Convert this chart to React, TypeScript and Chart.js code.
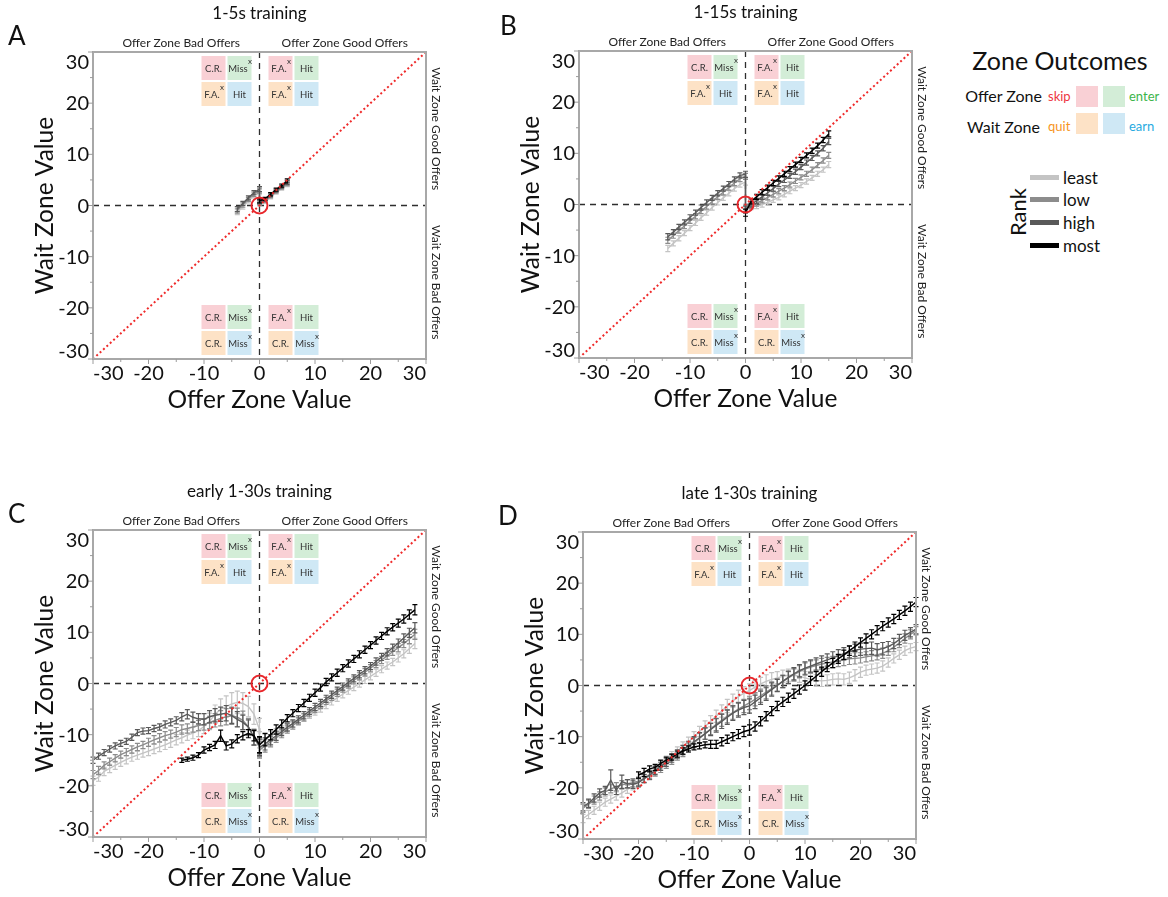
import React, { useEffect, useRef } from "react";
import { Chart, registerables } from "chart.js";

Chart.register(...registerables);

const FONT = "Lato, 'Open Sans', 'DejaVu Sans', sans-serif";

/* ---------------- axes, categories, labels ---------------- */
const AXIS_TICKS = [-30, -20, -10, 0, 10, 20, 30];
const MINOR_TICKS = [-25, -15, -5, 5, 15, 25];
const AXIS_MIN = -30;
const AXIS_MAX = 30;
const IDENTITY_LINE = [-30, 30];
const ORIGIN = [0];

const RANK_NAMES = ["least", "low", "high", "most"];
const RANK_COLORS = ["#c4c4c4", "#8c8c8c", "#595959", "#000000"];

const OUTCOME_COLORS = ["#f9d0d5", "#d3edd7", "#fde2c6", "#cfe8f5"];
const QUAD_TL = [["C.R.", ""], ["Miss", "x"], ["F.A.", "x"], ["Hit", ""]];
const QUAD_TR = [["F.A.", "x"], ["Hit", ""], ["F.A.", "x"], ["Hit", ""]];
const QUAD_BL = [["C.R.", ""], ["Miss", "x"], ["C.R.", ""], ["Miss", "x"]];
const QUAD_BR = [["F.A.", "x"], ["Hit", ""], ["C.R.", ""], ["Miss", "x"]];

/* ---------------- A: 1-5s training ---------------- */
const A_X_BAD = [-4, -3, -2, -1, 0];
const A_X_GOOD = [0, 1, 2, 3, 4, 5];
const A_LEAST_BAD = [-1.3, -0.3, 0.9, 1.9, 2.6];
const A_LOW_BAD = [-1.0, 0.1, 1.2, 2.2, 2.9];
const A_HIGH_BAD = [-0.7, 0.4, 1.5, 2.5, 3.2];
const A_LEAST_GOOD = [0.3, 0.7, 1.6, 2.5, 3.3, 4.1];
const A_LOW_GOOD = [0.5, 0.9, 1.8, 2.7, 3.5, 4.3];
const A_HIGH_GOOD = [0.7, 1.1, 2.0, 2.9, 3.7, 4.5];
const A_MOST_GOOD = [0.9, 1.3, 2.2, 3.1, 3.9, 4.8];
const A_ERR_BAD = [0.5, 0.4, 0.4, 0.4, 0.5];
const A_ERR_GOOD = [0.4, 0.3, 0.3, 0.3, 0.3, 0.4];

/* ---------------- B: 1-15s training ---------------- */
const B_X_BAD = [-14, -13, -12, -11, -10, -9, -8, -7, -6, -5, -4, -3, -2, -1, 0];
const B_X_GOOD = [0, 1, 2, 3, 4, 5, 6, 7, 8, 9, 10, 11, 12, 13, 14, 15];
const B_LEAST_BAD = [-8.6, -7.6, -6.6, -5.6, -4.6, -3.6, -2.6, -1.6, -0.6, 0.4, 1.3, 2.2, 3.1, 3.9, 4.4];
const B_LOW_BAD = [-7.0, -6.1, -5.1, -4.2, -3.2, -2.3, -1.3, -0.4, 0.6, 1.5, 2.4, 3.3, 4.2, 5.0, 5.5];
const B_HIGH_BAD = [-6.3, -5.4, -4.4, -3.5, -2.5, -1.6, -0.6, 0.4, 1.3, 2.2, 3.1, 4.0, 4.9, 5.7, 5.9];
const B_LEAST_GOOD = [-0.6, -0.5, -0.3, 0.0, 0.4, 0.9, 1.4, 2.0, 2.6, 3.2, 3.8, 4.5, 5.2, 6.0, 6.8, 7.8];
const B_LOW_GOOD = [-0.8, -0.3, 0.2, 0.8, 1.4, 2.0, 2.6, 3.2, 3.9, 4.6, 5.3, 6.0, 6.8, 7.7, 8.6, 9.6];
const B_HIGH_GOOD = [-1.0, 0.0, 0.7, 1.5, 2.3, 3.1, 4.0, 4.8, 5.6, 6.4, 7.3, 8.2, 9.1, 10.0, 11.0, 12.3];
const B_MOST_GOOD = [-1.6, 0.6, 1.5, 2.4, 3.3, 4.2, 5.1, 6.0, 6.9, 7.8, 8.7, 9.6, 10.5, 11.5, 12.6, 13.8];
const B_ERR_BAD = [0.6, 0.5, 0.5, 0.5, 0.5, 0.5, 0.5, 0.5, 0.5, 0.5, 0.5, 0.5, 0.5, 0.5, 0.6];
const B_ERR_GOOD = [0.7, 0.5, 0.5, 0.5, 0.5, 0.5, 0.5, 0.5, 0.5, 0.5, 0.5, 0.5, 0.5, 0.5, 0.5, 0.6];

/* ---------------- C: early 1-30s training ---------------- */
const C_X_BAD = [-30, -29, -28, -27, -26, -25, -24, -23, -22, -21, -20, -19, -18, -17, -16, -15, -14, -13, -12, -11, -10, -9, -8, -7, -6, -5, -4, -3, -2, -1, 0];
const C_X_MOST_BAD = [-14, -13, -12, -11, -10, -9, -8, -7, -6, -5, -4, -3, -2, -1, 0];
const C_X_GOOD = [0, 1, 2, 3, 4, 5, 6, 7, 8, 9, 10, 11, 12, 13, 14, 15, 16, 17, 18, 19, 20, 21, 22, 23, 24, 25, 26, 27, 28];
const C_LEAST_BAD = [-19.0, -18.3, -17.2, -16.6, -16.0, -15.4, -14.9, -14.4, -14.0, -13.6, -13.2, -12.8, -12.4, -12.0, -11.5, -11.0, -10.6, -10.1, -9.7, -9.2, -8.4, -7.4, -6.0, -5.0, -4.5, -4.0, -3.7, -3.9, -4.5, -6.0, -9.0];
const C_LOW_BAD = [-17.8, -17.0, -16.0, -15.3, -14.6, -13.9, -13.4, -12.9, -12.4, -12.0, -11.5, -11.0, -10.6, -10.2, -9.9, -9.5, -9.0, -8.8, -8.5, -8.2, -8.0, -7.6, -7.2, -6.8, -6.5, -6.3, -6.6, -7.2, -8.5, -10.5, -12.5];
const C_HIGH_BAD = [-15.0, -14.2, -13.5, -12.8, -12.2, -11.7, -11.3, -10.5, -9.6, -9.3, -9.2, -8.8, -8.5, -8.0, -7.6, -7.2, -6.5, -6.0, -6.6, -6.9, -7.0, -6.5, -6.2, -6.0, -5.8, -6.3, -7.0, -7.6, -8.5, -10.5, -12.2];
const C_MOST_BAD = [-15.0, -14.8, -14.5, -14.0, -13.0, -12.5, -12.0, -10.2, -12.2, -11.8, -10.8, -10.2, -9.8, -10.2, -12.0];
const C_LEAST_GOOD = [-11.0, -10.8, -10.3, -9.7, -9.1, -8.5, -7.9, -7.3, -6.7, -6.1, -5.5, -4.9, -4.2, -3.5, -2.8, -2.1, -1.4, -0.7, 0.0, 0.7, 1.4, 2.1, 2.8, 3.5, 4.2, 5.0, 5.8, 6.8, 7.8];
const C_LOW_GOOD = [-13.0, -12.2, -11.4, -10.6, -9.8, -9.0, -8.2, -7.4, -6.6, -5.8, -5.0, -4.2, -3.4, -2.6, -1.8, -1.0, -0.2, 0.6, 1.4, 2.2, 3.0, 3.8, 4.6, 5.4, 6.2, 7.0, 7.8, 8.7, 9.6];
const C_HIGH_GOOD = [-12.5, -11.8, -11.0, -10.2, -9.4, -8.6, -7.8, -7.0, -6.2, -5.4, -4.6, -3.8, -3.0, -2.2, -1.4, -0.6, 0.2, 1.0, 1.8, 2.6, 3.4, 4.3, 5.2, 6.1, 7.0, 7.9, 8.9, 9.9, 10.9];
const C_MOST_GOOD = [-12.0, -11.0, -10.0, -9.0, -7.9, -6.8, -5.8, -4.8, -3.8, -2.8, -1.8, -0.8, 0.3, 1.2, 2.1, 3.0, 3.9, 4.8, 5.7, 6.6, 7.5, 8.4, 9.3, 10.2, 11.0, 11.8, 12.6, 13.5, 14.4];
const C_ERR_LEAST_BAD = [0.9, 0.8, 0.8, 0.8, 0.8, 0.8, 0.8, 0.8, 0.8, 0.8, 0.9, 0.9, 0.9, 0.9, 1.0, 1.0, 1.0, 1.0, 1.1, 1.2, 1.4, 1.6, 1.8, 2.0, 2.1, 2.2, 2.2, 2.1, 2.0, 2.0, 2.2];
const C_ERR_LOW_BAD = [0.8, 0.8, 0.7, 0.7, 0.7, 0.7, 0.7, 0.7, 0.7, 0.7, 0.8, 0.8, 0.8, 0.8, 0.8, 0.9, 0.9, 0.9, 1.0, 1.0, 1.1, 1.2, 1.3, 1.5, 1.6, 1.7, 1.8, 1.8, 1.7, 1.6, 1.8];
const C_ERR_HIGH_BAD = [0.6, 0.6, 0.6, 0.6, 0.6, 0.6, 0.6, 0.6, 0.6, 0.6, 0.6, 0.6, 0.6, 0.7, 0.7, 0.7, 0.8, 0.9, 1.0, 1.0, 1.1, 1.2, 1.3, 1.4, 1.5, 1.5, 1.5, 1.4, 1.4, 1.5, 1.8];
const C_ERR_MOST_BAD = [0.4, 0.4, 0.5, 0.5, 0.6, 0.6, 0.7, 1.1, 0.8, 0.8, 0.8, 0.8, 0.8, 1.0, 1.5];
const C_ERR_GOOD = [1.6, 1.2, 1.0, 0.9, 0.8, 0.7, 0.7, 0.7, 0.7, 0.7, 0.7, 0.7, 0.7, 0.7, 0.7, 0.7, 0.7, 0.7, 0.7, 0.7, 0.7, 0.7, 0.7, 0.7, 0.7, 0.8, 0.8, 0.9, 1.0];

/* ---------------- D: late 1-30s training ---------------- */
const D_X = [-30, -29, -28, -27, -26, -25, -24, -23, -22, -21, -20, -19, -18, -17, -16, -15, -14, -13, -12, -11, -10, -9, -8, -7, -6, -5, -4, -3, -2, -1, 0, 1, 2, 3, 4, 5, 6, 7, 8, 9, 10, 11, 12, 13, 14, 15, 16, 17, 18, 19, 20, 21, 22, 23, 24, 25, 26, 27, 28, 29, 30];
const D_X_MOST = [-20, -19, -18, -17, -16, -15, -14, -13, -12, -11, -10, -9, -8, -7, -6, -5, -4, -3, -2, -1, 0, 1, 2, 3, 4, 5, 6, 7, 8, 9, 10, 11, 12, 13, 14, 15, 16, 17, 18, 19, 20, 21, 22, 23, 24, 25, 26, 27, 28, 29, 30];
const D_LEAST = [-26.0, -25.2, -24.4, -23.6, -22.8, -22.2, -21.6, -21.0, -20.3, -19.6, -18.9, -18.1, -17.3, -16.4, -15.5, -14.6, -13.7, -12.8, -11.9, -11.0, -10.0, -9.0, -8.0, -7.0, -6.0, -5.0, -4.0, -3.0, -2.2, -1.5, -1.0, -0.3, 0.3, 0.8, 1.2, 1.5, 1.8, 2.0, 2.0, 1.8, 1.5, 1.2, 1.0, 0.9, 1.0, 1.2, 1.3, 1.2, 1.5, 2.0, 2.6, 3.0, 3.2, 3.4, 3.8, 4.5, 5.3, 6.0, 6.8, 7.3, 7.6];
const D_LOW = [-24.0, -23.2, -22.4, -21.6, -20.8, -20.2, -19.8, -19.4, -19.2, -19.0, -18.7, -18.2, -17.6, -16.9, -16.2, -15.4, -14.6, -13.8, -13.0, -12.1, -11.2, -10.3, -9.4, -8.5, -7.6, -6.8, -6.0, -5.3, -4.6, -4.0, -3.4, -2.7, -2.0, -1.3, -0.6, 0.1, 0.8, 1.5, 2.1, 2.7, 3.2, 3.6, 3.9, 4.2, 4.4, 4.6, 4.8, 5.0, 5.2, 5.3, 5.4, 5.6, 5.8, 6.0, 6.3, 6.8, 7.5, 8.3, 9.2, 10.0, 10.7];
const D_HIGH = [-23.7, -23.0, -22.0, -21.0, -20.5, -18.5, -20.5, -18.8, -19.2, -19.3, -19.0, -18.2, -17.5, -16.6, -15.8, -15.0, -14.2, -13.4, -12.6, -11.8, -11.0, -10.2, -9.4, -8.6, -7.8, -7.0, -6.2, -5.4, -4.8, -4.3, -4.0, -3.2, -2.4, -1.6, -0.8, 0.0, 0.8, 1.6, 2.3, 2.9, 3.4, 3.8, 4.2, 4.6, 5.0, 5.4, 5.8, 6.2, 6.6, 6.9, 7.1, 7.2, 7.3, 7.0, 7.2, 7.6, 8.2, 9.0, 9.8, 10.4, 11.0];
const D_MOST = [-17.5, -17.0, -16.3, -16.0, -15.2, -14.6, -14.0, -13.4, -12.8, -12.4, -12.0, -11.8, -11.6, -11.5, -11.5, -11.0, -10.5, -10.0, -9.5, -9.0, -8.7, -8.0, -7.0, -6.0, -5.0, -4.0, -3.2, -2.4, -1.6, -0.8, 0.0, 0.9, 1.8, 2.7, 3.6, 4.4, 5.2, 6.0, 6.8, 7.6, 8.4, 9.2, 10.0, 10.8, 11.6, 12.3, 13.0, 13.8, 14.6, 15.4, 16.3];
const D_ERR_GRAY = [0.8, 0.8, 0.8, 0.8, 0.8, 0.8, 0.8, 0.8, 0.8, 0.8, 0.8, 0.8, 0.8, 0.8, 0.8, 0.8, 0.8, 0.8, 0.9, 0.9, 1.0, 1.0, 1.1, 1.1, 1.2, 1.2, 1.3, 1.3, 1.3, 1.3, 1.3, 1.3, 1.3, 1.3, 1.3, 1.2, 1.2, 1.2, 1.2, 1.2, 1.2, 1.2, 1.1, 1.1, 1.1, 1.1, 1.1, 1.1, 1.1, 1.1, 1.0, 1.0, 1.0, 1.0, 1.0, 0.9, 0.9, 0.9, 0.9, 0.9, 0.8];
const D_ERR_HIGH = [0.8, 0.8, 0.8, 0.8, 0.8, 2.0, 0.8, 1.3, 0.8, 0.8, 0.8, 0.8, 0.8, 0.8, 0.8, 0.8, 0.8, 0.8, 0.9, 0.9, 1.0, 1.0, 1.1, 1.2, 1.3, 1.4, 1.4, 1.4, 1.4, 1.4, 1.4, 1.3, 1.3, 1.3, 1.3, 1.2, 1.2, 1.2, 1.2, 1.2, 1.2, 1.2, 1.2, 1.2, 1.2, 1.2, 1.2, 1.2, 1.2, 1.2, 1.2, 1.2, 1.2, 1.2, 1.2, 1.0, 1.0, 1.0, 1.0, 0.9, 0.9];
const D_ERR_MOST = [0.6, 0.8, 0.6, 0.6, 0.6, 0.6, 0.6, 0.6, 0.6, 0.6, 0.6, 0.6, 0.6, 0.8, 0.8, 0.8, 0.8, 0.8, 0.9, 1.0, 1.0, 0.9, 0.9, 0.9, 0.9, 0.9, 0.9, 0.9, 0.9, 0.9, 0.9, 0.9, 0.9, 0.9, 0.9, 0.9, 0.9, 0.9, 0.9, 0.9, 0.9, 0.9, 0.9, 0.9, 0.9, 0.9, 0.9, 0.9, 0.9, 0.9, 0.9];

/* ---------------- panel layout ---------------- */
const CANVAS_W = 470;
const CANVAS_H = 414;
const PAD_LEFT = 93; // y-axis block width
const PAD_TOP = 52;
const PAD_RIGHT = 44;
const PAD_BOTTOM = 55; // x-axis block height

type Part = [number[], number[], number[]];

const PANELS: any[] = [
  {
    letter: "A", title: "1-5s training", pos: [0, 0], letterOff: [-85, -7],
    series: [
      [[A_X_BAD, A_LEAST_BAD, A_ERR_BAD], [A_X_GOOD, A_LEAST_GOOD, A_ERR_GOOD]],
      [[A_X_BAD, A_LOW_BAD, A_ERR_BAD], [A_X_GOOD, A_LOW_GOOD, A_ERR_GOOD]],
      [[A_X_BAD, A_HIGH_BAD, A_ERR_BAD], [A_X_GOOD, A_HIGH_GOOD, A_ERR_GOOD]],
      [[A_X_GOOD, A_MOST_GOOD, A_ERR_GOOD]],
    ],
  },
  {
    letter: "B", title: "1-15s training", pos: [486, -1], letterOff: [-79, -16],
    series: [
      [[B_X_BAD, B_LEAST_BAD, B_ERR_BAD], [B_X_GOOD, B_LEAST_GOOD, B_ERR_GOOD]],
      [[B_X_BAD, B_LOW_BAD, B_ERR_BAD], [B_X_GOOD, B_LOW_GOOD, B_ERR_GOOD]],
      [[B_X_BAD, B_HIGH_BAD, B_ERR_BAD], [B_X_GOOD, B_HIGH_GOOD, B_ERR_GOOD]],
      [[B_X_GOOD, B_MOST_GOOD, B_ERR_GOOD]],
    ],
  },
  {
    letter: "C", title: "early 1-30s training", pos: [0, 478], letterOff: [-85, -7],
    series: [
      [[C_X_BAD, C_LEAST_BAD, C_ERR_LEAST_BAD], [C_X_GOOD, C_LEAST_GOOD, C_ERR_GOOD]],
      [[C_X_BAD, C_LOW_BAD, C_ERR_LOW_BAD], [C_X_GOOD, C_LOW_GOOD, C_ERR_GOOD]],
      [[C_X_BAD, C_HIGH_BAD, C_ERR_HIGH_BAD], [C_X_GOOD, C_HIGH_GOOD, C_ERR_GOOD]],
      [[C_X_MOST_BAD, C_MOST_BAD, C_ERR_MOST_BAD], [C_X_GOOD, C_MOST_GOOD, C_ERR_GOOD]],
    ],
  },
  {
    letter: "D", title: "late 1-30s training", pos: [490, 480], letterOff: [-85, -7],
    series: [
      [[D_X, D_LEAST, D_ERR_GRAY]],
      [[D_X, D_LOW, D_ERR_GRAY]],
      [[D_X, D_HIGH, D_ERR_HIGH]],
      [[D_X_MOST, D_MOST, D_ERR_MOST]],
    ],
  },
];

function makeSeries(rank: number, parts: Part[]) {
  const data: any[] = [];
  const errs: number[] = [];
  parts.forEach(([xs, ys, es]) =>
    xs.forEach((x, i) => {
      data.push({ x, y: ys[i] });
      errs.push(es[i]);
    })
  );
  return {
    label: RANK_NAMES[rank],
    data,
    errs,
    showLine: true,
    borderColor: RANK_COLORS[rank],
    backgroundColor: RANK_COLORS[rank],
    borderWidth: rank === 3 ? 1.5 : 1.4,
    pointRadius: 0,
    order: 10 - rank,
  };
}

const decorPlugin: any = {
  id: "decor",
  beforeDatasetsDraw(chart: any) {
    const ctx = chart.ctx;
    const { left, top, right, bottom } = chart.chartArea;
    const xs = chart.scales.x;
    const ys = chart.scales.y;
    const x0 = xs.getPixelForValue(0);
    const y0 = ys.getPixelForValue(0);
    const cell = 24;
    const gap = 2;
    const quads = [
      { labels: QUAD_TL, x: x0 - 58, y: top + 4 },
      { labels: QUAD_TR, x: x0 + 9, y: top + 4 },
      { labels: QUAD_BL, x: x0 - 58, y: bottom - 4 - (2 * cell + gap) },
      { labels: QUAD_BR, x: x0 + 9, y: bottom - 4 - (2 * cell + gap) },
    ];
    ctx.save();
    quads.forEach((q) => {
      q.labels.forEach(([txt, sup]: string[], i: number) => {
        const r = Math.floor(i / 2);
        const c = i % 2;
        const bx = q.x + c * (cell + gap);
        const by = q.y + r * (cell + gap);
        ctx.fillStyle = OUTCOME_COLORS[i];
        ctx.fillRect(bx, by, cell, cell);
        ctx.font = `9.5px ${FONT}`;
        ctx.fillStyle = "#333";
        ctx.textAlign = "center";
        ctx.textBaseline = "alphabetic";
        const w = ctx.measureText(txt).width;
        const cx = bx + cell / 2 - (sup ? 1.5 : 0);
        ctx.fillText(txt, cx, by + cell / 2 + 3.5);
        if (sup) {
          ctx.font = `8px ${FONT}`;
          ctx.textAlign = "left";
          ctx.fillText(sup, cx + w / 2 + 0.3, by + 8);
        }
      });
    });
    ctx.setLineDash([6, 5]);
    ctx.strokeStyle = "#2e2e2e";
    ctx.lineWidth = 1.3;
    ctx.beginPath();
    ctx.moveTo(x0, top);
    ctx.lineTo(x0, bottom);
    ctx.moveTo(left, y0);
    ctx.lineTo(right, y0);
    ctx.stroke();
    ctx.restore();
  },
  beforeDatasetDraw(chart: any, args: any) {
    const ds = chart.data.datasets[args.index];
    if (!ds.errs) return;
    const ctx = chart.ctx;
    const xs = chart.scales.x;
    const ys = chart.scales.y;
    ctx.save();
    ctx.strokeStyle = ds.borderColor;
    ctx.lineWidth = 1.2;
    ctx.setLineDash([]);
    ctx.beginPath();
    ds.data.forEach((p: any, i: number) => {
      const e = ds.errs[i];
      const px = xs.getPixelForValue(p.x);
      const pt = ys.getPixelForValue(p.y + e);
      const pb = ys.getPixelForValue(p.y - e);
      ctx.moveTo(px, pt);
      ctx.lineTo(px, pb);
      ctx.moveTo(px - 2.5, pt);
      ctx.lineTo(px + 2.5, pt);
      ctx.moveTo(px - 2.5, pb);
      ctx.lineTo(px + 2.5, pb);
    });
    ctx.stroke();
    ctx.restore();
  },
  afterDraw(chart: any, _args: any, opts: any) {
    const ctx = chart.ctx;
    const { left, top, right, bottom } = chart.chartArea;
    const xs = chart.scales.x;
    const ys = chart.scales.y;
    const x0 = xs.getPixelForValue(0);
    const y0 = ys.getPixelForValue(0);
    ctx.save();
    ctx.setLineDash([]);
    // frame
    ctx.strokeStyle = "#a8a8a8";
    ctx.lineWidth = 2;
    ctx.strokeRect(left, top, right - left, bottom - top);
    // ticks
    ctx.lineWidth = 1;
    ctx.strokeStyle = "#9c9c9c";
    ctx.beginPath();
    AXIS_TICKS.forEach((v) => {
      const px = xs.getPixelForValue(v);
      ctx.moveTo(px, bottom);
      ctx.lineTo(px, bottom + 5);
      const py = ys.getPixelForValue(v);
      ctx.moveTo(left, py);
      ctx.lineTo(left - 5, py);
    });
    MINOR_TICKS.forEach((v) => {
      const px = xs.getPixelForValue(v);
      ctx.moveTo(px, bottom);
      ctx.lineTo(px, bottom + 3);
      const py = ys.getPixelForValue(v);
      ctx.moveTo(left, py);
      ctx.lineTo(left - 3, py);
    });
    ctx.stroke();
    // tick labels
    ctx.fillStyle = "#111";
    ctx.font = `20px ${FONT}`;
    const last = AXIS_TICKS.length - 1;
    AXIS_TICKS.forEach((v, i) => {
      const lbl = String(v);
      const px = xs.getPixelForValue(v);
      ctx.textBaseline = "alphabetic";
      ctx.textAlign = i === 0 ? "left" : i === last ? "right" : "center";
      ctx.fillText(lbl, px, bottom + 21);
      const py = ys.getPixelForValue(v);
      ctx.textAlign = "right";
      let by = py + 7;
      if (i === last) by = top + 17;
      if (i === 0) by = bottom - 1;
      ctx.fillText(lbl, left - 4, by);
    });
    // axis titles
    ctx.font = `24.5px ${FONT}`;
    ctx.textAlign = "center";
    ctx.textBaseline = "alphabetic";
    ctx.fillText("Offer Zone Value", x0, bottom + 49);
    ctx.save();
    ctx.translate(left - 40, (top + bottom) / 2);
    ctx.rotate(-Math.PI / 2);
    ctx.fillText("Wait Zone Value", 0, 0);
    ctx.restore();
    // quadrant headers
    ctx.font = `12px ${FONT}`;
    ctx.fillStyle = "#222";
    ctx.fillText("Offer Zone Bad Offers", (left + x0) / 2 + 5, top - 5);
    ctx.fillText("Offer Zone Good Offers", (x0 + right) / 2 + 2, top - 5);
    ctx.save();
    ctx.translate(right + 6, (top + y0) / 2);
    ctx.rotate(Math.PI / 2);
    ctx.fillText("Wait Zone Good Offers", 0, 0);
    ctx.restore();
    ctx.save();
    ctx.translate(right + 6, (y0 + bottom) / 2);
    ctx.rotate(Math.PI / 2);
    ctx.fillText("Wait Zone Bad Offers", 0, 0);
    ctx.restore();
    // title
    ctx.fillStyle = "#111";
    ctx.font = `17px ${FONT}`;
    ctx.fillText(opts.title, x0, top - 33);
    // panel letter
    ctx.font = `26px ${FONT}`;
    ctx.textAlign = "left";
    ctx.fillText(opts.letter, left + opts.letterOff[0], top + opts.letterOff[1]);
    ctx.restore();
  },
};

function Panel({ cfg }: { cfg: any }) {
  const ref = useRef<HTMLCanvasElement | null>(null);
  useEffect(() => {
    const datasets: any[] = cfg.series.map((parts: Part[], r: number) => makeSeries(r, parts));
    datasets.push({
      label: "identity",
      data: IDENTITY_LINE.map((v) => ({ x: v, y: v })),
      showLine: true,
      borderColor: "#ef2b2b",
      borderWidth: 2,
      borderDash: [2, 2.6],
      pointRadius: 0,
      order: 1,
    });
    datasets.push({
      label: "origin",
      data: ORIGIN.map((v) => ({ x: v, y: v })),
      showLine: false,
      pointRadius: 8,
      pointBorderWidth: 2,
      pointBorderColor: "#e8262b",
      pointBackgroundColor: "rgba(0,0,0,0)",
      order: 0,
    });
    const chart = new Chart(ref.current as HTMLCanvasElement, {
      type: "scatter",
      data: { datasets },
      options: {
        animation: false,
        responsive: false,
        maintainAspectRatio: false,
        events: [],
        layout: { autoPadding: false, padding: { left: 0, top: PAD_TOP, right: PAD_RIGHT, bottom: 0 } },
        plugins: {
          legend: { display: false },
          tooltip: { enabled: false },
          decor: { title: cfg.title, letter: cfg.letter, letterOff: cfg.letterOff },
        },
        scales: {
          x: {
            type: "linear",
            min: AXIS_MIN,
            max: AXIS_MAX,
            grid: { display: false },
            border: { display: false },
            ticks: { display: false },
            afterFit: (s: any) => {
              s.height = PAD_BOTTOM;
            },
          },
          y: {
            type: "linear",
            min: AXIS_MIN,
            max: AXIS_MAX,
            grid: { display: false },
            border: { display: false },
            ticks: { display: false },
            afterFit: (s: any) => {
              s.width = PAD_LEFT;
            },
          },
        },
      } as any,
      plugins: [decorPlugin],
    });
    return () => chart.destroy();
  }, [cfg]);
  return (
    <canvas
      ref={ref}
      width={CANVAS_W}
      height={CANVAS_H}
      style={{ position: "absolute", left: cfg.pos[0], top: cfg.pos[1], width: CANVAS_W, height: CANVAS_H }}
    />
  );
}

function Legend() {
  const base: React.CSSProperties = {
    position: "absolute",
    fontFamily: FONT,
    color: "#111",
    whiteSpace: "nowrap",
    lineHeight: 1,
  };
  const box = (left: number, top: number, color: string): React.CSSProperties => ({
    position: "absolute",
    left,
    top,
    width: 22,
    height: 21,
    background: color,
  });
  const rankY = [177, 199, 222, 245];
  return (
    <>
      <div style={{ ...base, left: 1060, top: 60, transform: "translate(-50%,-50%)", fontSize: 25 }}>Zone Outcomes</div>
      <div style={{ ...base, right: 1168 - 1042, top: 96, transform: "translateY(-50%)", fontSize: 16 }}>Offer Zone</div>
      <div style={{ ...base, left: 1048, top: 96, transform: "translateY(-50%)", fontSize: 13, color: "#ee3542" }}>skip</div>
      <div style={box(1076, 86, OUTCOME_COLORS[0])} />
      <div style={box(1103, 86, OUTCOME_COLORS[1])} />
      <div style={{ ...base, left: 1129, top: 96, transform: "translateY(-50%)", fontSize: 13, color: "#3db54a" }}>enter</div>
      <div style={{ ...base, right: 1168 - 1040, top: 127, transform: "translateY(-50%)", fontSize: 16 }}>Wait Zone</div>
      <div style={{ ...base, left: 1048, top: 126, transform: "translateY(-50%)", fontSize: 13, color: "#f7941d" }}>quit</div>
      <div style={box(1076, 113, OUTCOME_COLORS[2])} />
      <div style={box(1103, 113, OUTCOME_COLORS[3])} />
      <div style={{ ...base, left: 1129, top: 126, transform: "translateY(-50%)", fontSize: 13, color: "#27aae1" }}>earn</div>
      {RANK_NAMES.map((n, i) => (
        <React.Fragment key={n}>
          <div style={{ position: "absolute", left: 1030, top: rankY[i] - 2.5, width: 29, height: 5, background: RANK_COLORS[i] }} />
          <div style={{ ...base, left: 1063, top: rankY[i], transform: "translateY(-50%)", fontSize: 17 }}>{n}</div>
        </React.Fragment>
      ))}
      <div style={{ ...base, left: 1018, top: 212, transform: "translate(-50%,-50%) rotate(-90deg)", fontSize: 22 }}>Rank</div>
    </>
  );
}

export default function App() {
  return (
    <div
      style={{
        position: "absolute",
        left: 0,
        top: 0,
        width: 1168,
        height: 897,
        overflow: "hidden",
        background: "#fff",
        fontFamily: FONT,
      }}
    >
      {PANELS.map((p) => (
        <Panel key={p.letter} cfg={p} />
      ))}
      <Legend />
    </div>
  );
}
